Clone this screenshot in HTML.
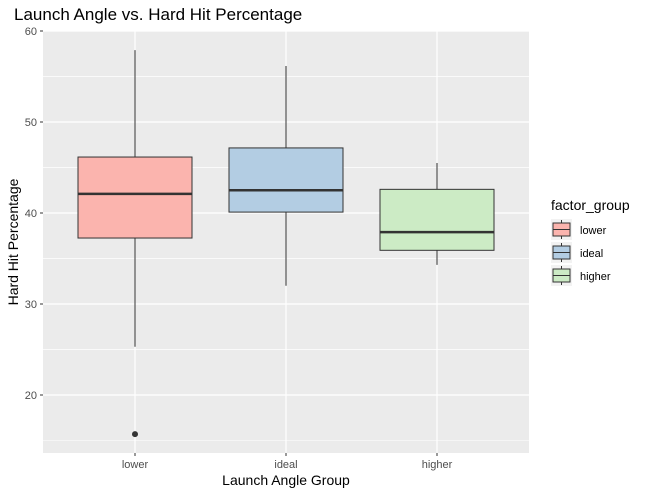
<!DOCTYPE html>
<html><head><meta charset="utf-8"><style>
body{margin:0;background:#fff;font-family:"Liberation Sans",sans-serif}
</style></head><body>
<svg width="647" height="495" xmlns="http://www.w3.org/2000/svg">
<text x="14" y="20" font-size="17" fill="#000">Launch Angle vs. Hard Hit Percentage</text>
<rect x="43" y="31" width="486" height="422" fill="#ebebeb"/>
<g id="grid"></g><g id="boxes"></g><g id="axes"></g>
<text x="286" y="485" font-size="14" text-anchor="middle">Launch Angle Group</text>
<text transform="translate(18,242) rotate(-90)" font-size="14" text-anchor="middle">Hard Hit Percentage</text>
<g>
<text x="551" y="210" font-size="14">factor_group</text>
<g id="legend"></g>
</g>
</svg>
<script>
const categories=["lower","ideal","higher"];
const fills=["#fbb4ae","#b3cde3","#ccebc5"];
const wlo=[25.3,32.0,34.3];
const q1=[37.25,40.1,35.9];
const med=[42.1,42.5,37.9];
const q3=[46.15,47.15,42.6];
const whi=[57.9,56.15,45.5];
const outliers=[[15.7],[],[]];
const yTicks=[20,30,40,50,60];
const NS="http://www.w3.org/2000/svg";
const y=v=>31+(60-v)*9.1;
const x=i=>135+i*151;
function mk(p,t,a){const e=document.createElementNS(NS,t);for(const k in a)e.setAttribute(k,a[k]);p.appendChild(e);return e;}
const g=document.getElementById('grid'),b=document.getElementById('boxes'),ax=document.getElementById('axes'),lg=document.getElementById('legend');
yTicks.forEach((t,i)=>{
 if(i<yTicks.length-1){const mv=(t+yTicks[i+1])/2;const m=mk(g,'line',{x1:43,x2:529,y1:y(mv),y2:y(mv),stroke:'#fff','stroke-width':0.6});
 
 }
 const mv2=t-5;if(y(mv2)<453){const m2=mk(g,'line',{x1:43,x2:529,y1:y(mv2),y2:y(mv2),stroke:'#fff','stroke-width':0.6});
 
 }
 const l=mk(g,'line',{x1:43,x2:529,y1:y(t),y2:y(t),stroke:'#fff','stroke-width':1.2});
 
 
 mk(ax,'line',{x1:40,x2:43,y1:y(t),y2:y(t),stroke:'#333'});
 const tx=mk(ax,'text',{x:37,y:y(t)+4,'font-size':11,fill:'#4d4d4d','text-anchor':'end'});tx.textContent=t;
 
 
});
categories.forEach((c,i)=>{
 const l=mk(g,'line',{x1:x(i),x2:x(i),y1:31,y2:453,stroke:'#fff','stroke-width':1.2});
 
 
 mk(ax,'line',{x1:x(i),x2:x(i),y1:453,y2:456,stroke:'#333'});
 const tx=mk(ax,'text',{x:x(i),y:468,'font-size':11,fill:'#4d4d4d','text-anchor':'middle'});tx.textContent=c;
 
 
 const grp=mk(b,'g',{});
 
 
 mk(grp,'line',{x1:x(i),x2:x(i),y1:y(whi[i]),y2:y(q3[i]),stroke:'#333'});
 mk(grp,'line',{x1:x(i),x2:x(i),y1:y(q1[i]),y2:y(wlo[i]),stroke:'#333'});
 mk(grp,'rect',{x:x(i)-57,y:y(q3[i]),width:114,height:y(q1[i])-y(q3[i]),fill:fills[i],stroke:'#333'});
 mk(grp,'line',{x1:x(i)-57,x2:x(i)+57,y1:y(med[i]),y2:y(med[i]),stroke:'#333','stroke-width':2.5});
 outliers[i].forEach(o=>{const p=mk(grp,'circle',{cx:x(i),cy:y(o),r:3,fill:'#333'});
 
 });
 const ky=219+i*23;
 const k=mk(lg,'g',{});
 
 
 mk(k,'rect',{x:551,y:ky,width:21,height:21,fill:'#f2f2f2'});
 mk(k,'line',{x1:561.5,x2:561.5,y1:ky+1,y2:ky+20,stroke:'#333'});
 mk(k,'rect',{x:553,y:ky+4,width:17,height:13,fill:fills[i],stroke:'#333'});
 mk(k,'line',{x1:553,x2:570,y1:ky+10.5,y2:ky+10.5,stroke:'#333'});
 const lt=mk(k,'text',{x:580,y:ky+15,'font-size':11,fill:'#000'});lt.textContent=c;
});
</script>
</body></html>
